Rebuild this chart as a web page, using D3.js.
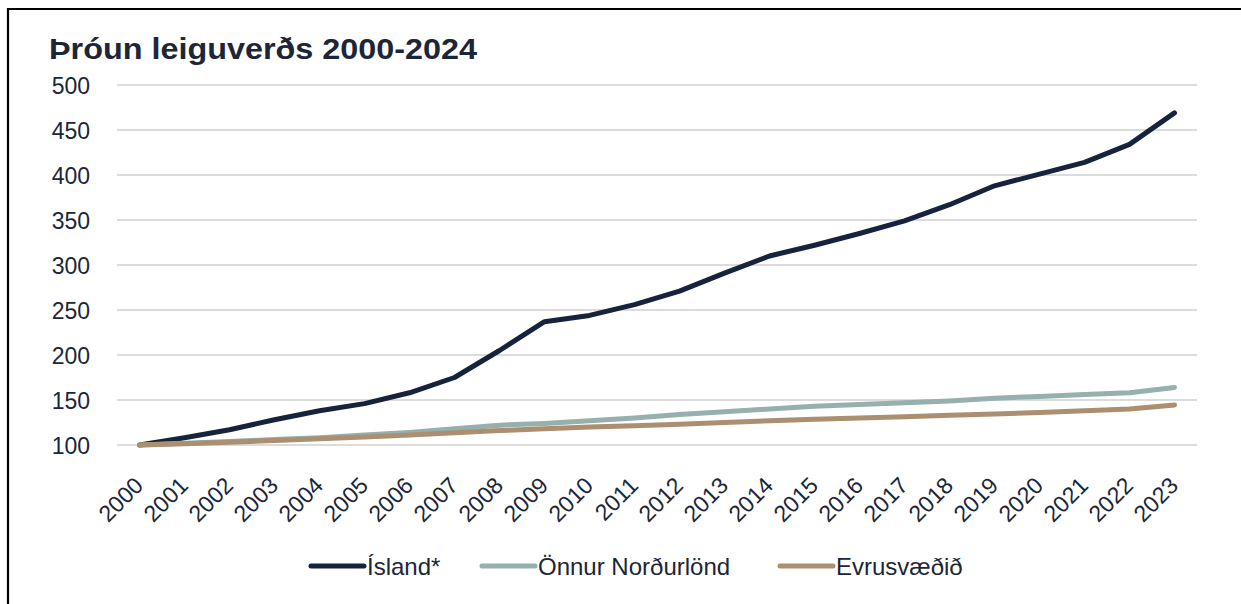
<!DOCTYPE html>
<html>
<head>
<meta charset="utf-8">
<script src="https://cdn.jsdelivr.net/npm/d3@7"></script>
<style>
  html, body { margin: 0; padding: 0; background: #fff; }
  svg { display: block; font-family: "Liberation Sans", Arial, Helvetica, sans-serif; }
</style>
</head>
<body>
<svg id="chart" width="1241" height="604"></svg>
<script>
const years = ["2000","2001","2002","2003","2004","2005","2006","2007","2008","2009","2010","2011",
               "2012","2013","2014","2015","2016","2017","2018","2019","2020","2021","2022","2023"];
const island = [100,108,117,128,138,146,158,175,205,237,244,256,271,291,310,322,335,349,367,388,401,414,434,469];
const nordurlond = [100,102,104,106,108,111,114,118,122,124,127,130,134,137,140,143,145,147,149,152,154,156,158,164];
const evrusvaedid = [100,101.5,103,105,107,109,111,113.5,116,118,120,121.5,123,125,127,128.5,130,131.5,133,134.5,136,138,140,144.5];
const yTicks = [100,150,200,250,300,350,400,450,500];
const seriesNames = ["Ísland*","Önnur Norðurlönd","Evrusvæðið"];
const seriesColors = ["#16233d","#96b0ad","#ab8f70"];
const title = "Þróun leiguverðs 2000-2024";

const svg = d3.select("#chart");
const W = 1241, H = 604;

// frame (left and top edges visible)
svg.append("path").attr("d", `M8,${H} L8,9 L${W},9`).attr("fill","none").attr("stroke","#000").attr("stroke-width",2.2);

const x = d3.scaleBand().domain(years).range([117,1197]);
const y = d3.scaleLinear().domain([100,500]).range([445,85]);
const cx = d => x(d) + x.bandwidth()/2;

// gridlines
svg.append("g").selectAll("line").data(yTicks).join("line")
  .attr("x1",117).attr("x2",1197)
  .attr("y1",d=>y(d)).attr("y2",d=>y(d))
  .attr("stroke","#dcdcdc").attr("stroke-width",1.8);

// y axis
const yAxis = svg.append("g").attr("transform","translate(90,0)")
  .call(d3.axisLeft(y).tickValues(yTicks).tickSize(0).tickPadding(0));
yAxis.select(".domain").remove();
yAxis.selectAll("text").attr("font-size",23).attr("fill","#1c2638")
  .attr("font-family","Liberation Sans, Arial, sans-serif").attr("dy","0.36em");

// x axis
const xAxis = svg.append("g").attr("transform","translate(0,445)")
  .call(d3.axisBottom(x).tickSize(0).tickPadding(0));
xAxis.select(".domain").remove();
xAxis.selectAll("text")
  .attr("font-size",23).attr("fill","#1c2638")
  .attr("font-family","Liberation Sans, Arial, sans-serif")
  .attr("text-anchor","end")
  .attr("dy",0).attr("y",0)
  .attr("transform","translate(5,42) rotate(-45)");

// lines
const data = [island, nordurlond, evrusvaedid];
const line = d3.line().x((d,i)=>cx(years[i])).y(d=>y(d));
svg.append("g").selectAll("path").data(data).join("path")
  .attr("d", line)
  .attr("fill","none")
  .attr("stroke",(d,i)=>seriesColors[i])
  .attr("stroke-width",5)
  .attr("stroke-linecap","round")
  .attr("stroke-linejoin","round");

// title
svg.append("text").attr("x",49).attr("y",59)
  .attr("font-size",30).attr("font-weight","bold").attr("fill","#1c2638")
  .attr("textLength",428).attr("lengthAdjust","spacingAndGlyphs")
  .text(title);

// legend
const legendX = [309, 480, 778];
const lg = svg.append("g").selectAll("g").data(seriesNames).join("g")
  .attr("transform",(d,i)=>`translate(${legendX[i]},566)`);
lg.append("line").attr("x1",2).attr("x2",55).attr("y1",0).attr("y2",0)
  .attr("stroke",(d,i)=>seriesColors[i]).attr("stroke-width",5).attr("stroke-linecap","round");
lg.append("text").attr("x",58).attr("y",0).attr("dy","0.36em")
  .attr("font-size",24).attr("fill","#1c2638").text(d=>d);
</script>
</body>
</html>
